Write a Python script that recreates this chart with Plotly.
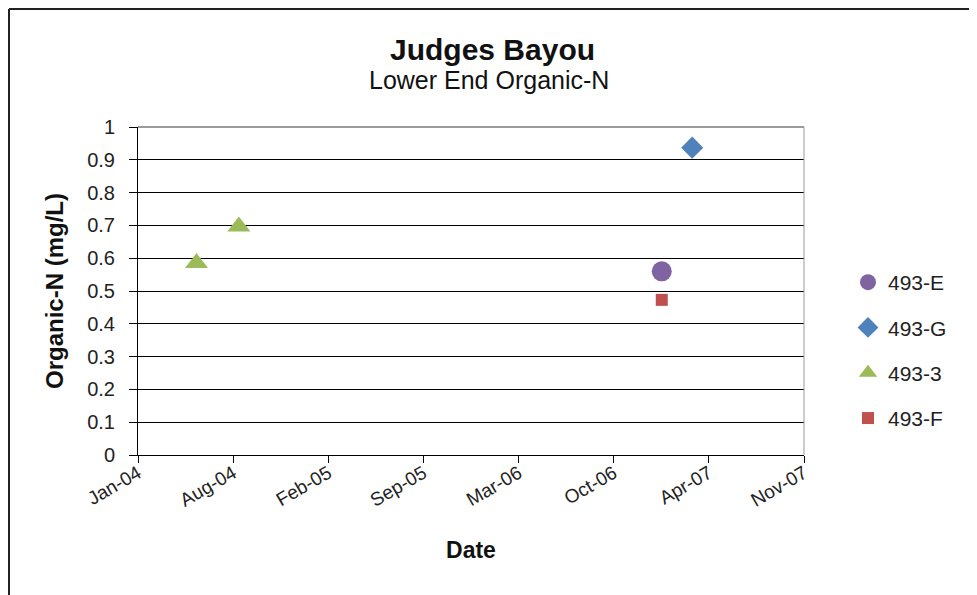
import plotly.graph_objects as go

# ---- data ----
series_names = ["493-E", "493-G", "493-3", "493-F"]
e_dates = ["2007-01-20"]
e_vals = [0.56]
g_dates = ["2007-03-25"]
g_vals = [0.937]
s3_dates = ["2004-05-17", "2004-08-14"]
s3_vals = [0.585, 0.697]
f_dates = ["2007-01-20"]
f_vals = [0.473]

tick_dates = ["2004-01-15", "2004-08-02", "2005-02-18", "2005-09-06",
              "2006-03-25", "2006-10-11", "2007-04-29", "2007-11-15"]
tick_labels = ["Jan-04", "Aug-04", "Feb-05", "Sep-05",
               "Mar-06", "Oct-06", "Apr-07", "Nov-07"]

FONT = "Liberation Sans, Arial, sans-serif"

fig = go.Figure()
fig.add_trace(go.Scatter(x=e_dates, y=e_vals, mode="markers", name=series_names[0],
                         legendgroup="a",
                         marker=dict(symbol="circle", size=20, color="#8064A2")))
fig.add_trace(go.Scatter(x=g_dates, y=g_vals, mode="markers", name=series_names[1],
                         legendgroup="b",
                         marker=dict(symbol="diamond", size=17, color="#4F81BD")))
fig.add_trace(go.Scatter(x=s3_dates, y=s3_vals, mode="markers", name=series_names[2],
                         legendgroup="c",
                         marker=dict(symbol="triangle-up", size=20, color="#9BBB59")))
fig.add_trace(go.Scatter(x=f_dates, y=f_vals, mode="markers", name=series_names[3],
                         legendgroup="d",
                         marker=dict(symbol="square", size=12, color="#C0504D")))

OFF = 8  # page body margin
FW, FH = 977 - OFF, 595 - OFF
L, R, T, B = 138 - OFF, 804 - OFF, 127 - OFF, 455 - OFF
W, H = R - L, B - T

def px(xp):
    return (xp - OFF - L) / W

def py(yp):
    return (B - (yp - OFF)) / H

fig.update_layout(
    width=FW, height=FH,
    margin=dict(l=L, r=FW - R, t=T, b=FH - B),
    paper_bgcolor="white", plot_bgcolor="white",
    font=dict(family=FONT, color="#111"),
    showlegend=True,
    legend=dict(x=px(848), y=py(262), xanchor="left", yanchor="top",
                font=dict(size=21, family=FONT, color="#222"),
                tracegroupgap=15, itemwidth=30, bgcolor="rgba(0,0,0,0)"),
    xaxis=dict(type="date", range=[tick_dates[0], tick_dates[-1]],
               tickmode="array", tickvals=tick_dates, ticktext=tick_labels,
               tickangle=-30, tickfont=dict(size=19, color="#222"),
               showgrid=False, showline=True, linecolor="black", linewidth=1,
               ticks="outside", ticklen=7, tickcolor="black", zeroline=False,
               ticklabelstandoff=-8,
               title=dict(text="<b>Date</b>", font=dict(size=23, color="#111"), standoff=32)),
    yaxis=dict(range=[0, 1], tickmode="linear", tick0=0, dtick=0.1,
               tickfont=dict(size=20, color="#222"),
               showgrid=True, gridcolor="black", gridwidth=1,
               showline=True, linecolor="black", linewidth=1,
               ticks="outside", ticklen=8, tickcolor="black", zeroline=False,
               ticklabelstandoff=10,
               title=dict(text="<b>Organic-N (mg/L)</b>", font=dict(size=24, color="#111"),
                          standoff=16)),
)

shapes = [
    # gray plot-area border (top & right)
    dict(type="line", xref="paper", yref="paper", x0=0, x1=1, y0=1, y1=1,
         line=dict(color="#9a9a9a", width=2), layer="above"),
    dict(type="line", xref="paper", yref="paper", x0=1, x1=1, y0=0, y1=1,
         line=dict(color="#9a9a9a", width=1), layer="above"),
    # chart outer border (left & top)
    dict(type="line", xref="paper", yref="paper", x0=px(9), x1=px(9), y0=py(9), y1=py(600),
         line=dict(color="#222", width=2)),
    dict(type="line", xref="paper", yref="paper", x0=px(9), x1=px(990), y0=py(9), y1=py(9),
         line=dict(color="#222", width=2)),
]
fig.update_layout(shapes=shapes)

fig.add_annotation(text="<b>Judges Bayou</b>", xref="paper", yref="paper",
                   x=px(492), y=py(49), xanchor="center", yanchor="middle", showarrow=False,
                   font=dict(size=30, family=FONT, color="#111"))
fig.add_annotation(text="Lower End Organic-N", xref="paper", yref="paper",
                   x=px(489), y=py(80), xanchor="center", yanchor="middle", showarrow=False,
                   font=dict(size=25, family=FONT, color="#111"))

fig.write_html("out.html")
